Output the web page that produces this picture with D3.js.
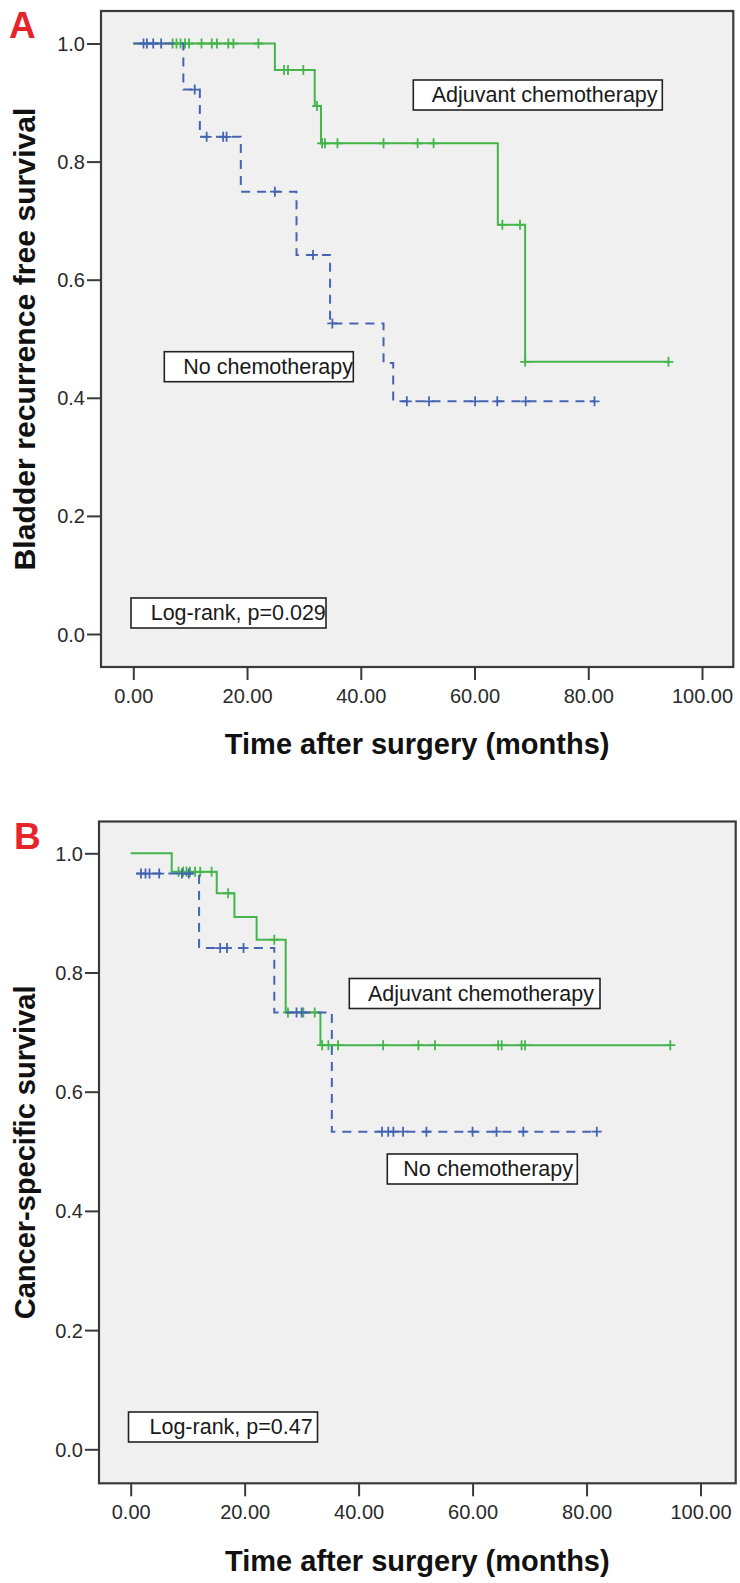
<!DOCTYPE html>
<html><head><meta charset="utf-8">
<script src="https://cdn.jsdelivr.net/npm/d3@7"></script>
<style>
html,body{margin:0;padding:0;background:#fff;}
svg{display:block;font-family:"Liberation Sans",Arial,sans-serif;}
</style></head>
<body>
<svg id="chart" width="740" height="1583"></svg>
<script>
// ---------- DATA ----------
const xTicks = [0, 20, 40, 60, 80, 100];
const yTicks = [0, 0.2, 0.4, 0.6, 0.8, 1.0];
const xTitle = "Time after surgery (months)";

// Panel A: Bladder recurrence free survival
const aTitle = "Bladder recurrence free survival";
const aChemoStepT = [0, 24.9, 31.9, 33.0, 64.1, 68.9];
const aChemoStepS = [1.0, 0.955, 0.894, 0.831, 0.693, 0.461];
const aChemoEnd = 94.1;
const aChemoCens = [6.9, 7.6, 8.3, 9.1, 9.8, 12.0, 13.8, 14.7, 16.7, 17.6, 22.0, 26.5, 27.2, 29.9, 32.3, 33.2, 33.7, 35.9, 44.0, 50.0, 52.8, 64.9, 68.0, 68.9, 94.1];
const aNoStepT = [0, 8.8, 11.7, 18.9, 28.7, 34.6, 44.0, 45.7];
const aNoStepS = [1.0, 0.922, 0.842, 0.749, 0.642, 0.526, 0.459, 0.394];
const aNoEnd = 81.1;
const aNoCens = [1.8, 2.4, 3.5, 4.9, 10.8, 12.9, 15.8, 16.4, 24.9, 31.6, 35.0, 48.1, 52.0, 60.1, 64.0, 69.0, 81.1];
const aLogRank = "Log-rank, p=0.029";

// Panel B: Cancer-specific survival
const bTitle = "Cancer-specific survival";
const bChemoStepT = [0, 7.2, 15.1, 18.2, 22.1, 27.2, 33.3];
const bChemoStepS = [1.0, 0.969, 0.933, 0.893, 0.855, 0.733, 0.678];
const bChemoEnd = 94.7;
const bChemoCens = [8.4, 9.2, 9.8, 10.4, 11.3, 12.2, 14.2, 17.1, 25.2, 27.6, 30.3, 32.3, 33.6, 34.7, 36.4, 44.3, 50.5, 53.4, 64.5, 65.1, 68.6, 69.2, 94.7];
const bNoStepT = [1.0, 12.0, 25.2, 35.3];
const bNoStepS = [0.966, 0.841, 0.733, 0.533];
const bNoEnd = 81.8;
const bNoCens = [1.8, 2.6, 3.3, 5.0, 9.0, 10.2, 15.7, 16.9, 19.8, 29.1, 30.0, 44.1, 45.2, 46.1, 47.8, 51.9, 60.0, 64.2, 68.9, 81.8];
const bLogRank = "Log-rank, p=0.47";

const chemoLabel = "Adjuvant chemotherapy";
const noLabel = "No chemotherapy";

// ---------- STYLE / LAYOUT ----------
const GREEN = "#44b54b", BLUE = "#4565b2", FRAME = "#3a3a3a", TXT = "#2a2a2a";

const panels = [
  { letter: "A", lx: 9, ly: 38, title: aTitle, titleLen: 463,
    frame: {x0: 101, x1: 733.3, y0: 11, y1: 667},
    xr: [133.3, 702], yr: [634, 43.5],
    chemo: {t: aChemoStepT, s: aChemoStepS, end: aChemoEnd, c: aChemoCens},
    no: {t: aNoStepT, s: aNoStepS, end: aNoEnd, c: aNoCens},
    boxes: [
      {text: chemoLabel, x: 413.3, y: 80, w: 249, tx: 431.7},
      {text: noLabel, x: 164.3, y: 351.7, w: 189, tx: 183.3},
      {text: aLogRank, x: 131, y: 598, w: 195, tx: 150.7}
    ],
    tickLabY: 703, xTitleY: 754 },
  { letter: "B", lx: 14, ly: 849, title: bTitle, titleLen: null,
    frame: {x0: 99, x1: 735.7, y0: 821.5, y1: 1483.3},
    xr: [130.7, 700.5], yr: [1449.3, 853.3],
    chemo: {t: bChemoStepT, s: bChemoStepS, end: bChemoEnd, c: bChemoCens},
    no: {t: bNoStepT, s: bNoStepS, end: bNoEnd, c: bNoCens},
    boxes: [
      {text: chemoLabel, x: 349.3, y: 978.5, w: 250.7, tx: 368},
      {text: noLabel, x: 387.3, y: 1154, w: 190, tx: 403.3},
      {text: bLogRank, x: 128.5, y: 1412, w: 189, tx: 149.5}
    ],
    tickLabY: 1519, xTitleY: 1571 }
];

const svg = d3.select("#chart");

function survAt(ser, t) {
  let s = ser.s[0];
  for (let i = 0; i < ser.t.length; i++) if (ser.t[i] <= t) s = ser.s[i];
  return s;
}

panels.forEach(p => {
  const f = p.frame;
  const x = d3.scaleLinear().domain([0, 100]).range(p.xr);
  const y = d3.scaleLinear().domain([0, 1]).range(p.yr);
  const g = svg.append("g");

  // plot background
  g.append("rect").attr("x", f.x0).attr("y", f.y0)
    .attr("width", f.x1 - f.x0).attr("height", f.y1 - f.y0)
    .attr("fill", "#f0f0f0");

  // axes
  const yAxis = d3.axisLeft(y).tickValues(yTicks).tickFormat(d3.format(".1f"))
    .tickSize(14).tickPadding(2);
  const ya = g.append("g").attr("transform", `translate(${f.x0},0)`).call(yAxis);
  ya.select(".domain").remove();
  ya.selectAll("line").attr("stroke", FRAME).attr("stroke-width", 2);
  ya.selectAll("text").attr("font-size", 20).attr("fill", TXT)
    .attr("font-family", "Liberation Sans, Arial, sans-serif").attr("dy", "0.35em");

  const xAxis = d3.axisBottom(x).tickValues(xTicks).tickFormat(d3.format(".2f"))
    .tickSize(13).tickPadding(0);
  const xa = g.append("g").attr("transform", `translate(0,${f.y1})`).call(xAxis);
  xa.select(".domain").remove();
  xa.selectAll("line").attr("stroke", FRAME).attr("stroke-width", 2);
  xa.selectAll("text").attr("font-size", 20).attr("fill", TXT)
    .attr("font-family", "Liberation Sans, Arial, sans-serif")
    .attr("y", p.tickLabY - f.y1).attr("dy", 0);

  // curves
  const line = d3.line().x(d => x(d[0])).y(d => y(d[1])).curve(d3.curveStepAfter);
  const series = [
    {ser: p.chemo, color: GREEN, dash: null},
    {ser: p.no, color: BLUE, dash: "9,7"}
  ];
  series.forEach(S => {
    const pts = S.ser.t.map((t, i) => [t, S.ser.s[i]]);
    pts.push([S.ser.end, S.ser.s[S.ser.s.length - 1]]);
    g.append("path").datum(pts).attr("d", line)
      .attr("fill", "none").attr("stroke", S.color).attr("stroke-width", 2)
      .attr("stroke-dasharray", S.dash);
    g.append("g").selectAll("path").data(S.ser.c).join("path")
      .attr("d", t => {
        const cx = x(t), cy = y(survAt(S.ser, t));
        return `M${cx},${cy - 5}V${cy + 5}M${cx - 5},${cy}H${cx + 5}`;
      })
      .attr("stroke", S.color).attr("stroke-width", 1.8).attr("fill", "none");
  });

  // frame
  g.append("rect").attr("x", f.x0).attr("y", f.y0)
    .attr("width", f.x1 - f.x0).attr("height", f.y1 - f.y0)
    .attr("fill", "none").attr("stroke", FRAME).attr("stroke-width", 2.2);

  // label boxes
  p.boxes.forEach(b => {
    g.append("rect").attr("x", b.x).attr("y", b.y).attr("width", b.w).attr("height", 30)
      .attr("fill", "#fff").attr("stroke", "#222").attr("stroke-width", 1.6);
    g.append("text").attr("x", b.tx).attr("y", b.y + 22)
      .attr("font-size", 21.5).attr("fill", "#1a1a1a").text(b.text);
  });

  // titles
  g.append("text").attr("x", (f.x0 + f.x1) / 2).attr("y", p.xTitleY)
    .attr("text-anchor", "middle").attr("font-size", 29).attr("font-weight", "bold")
    .attr("fill", "#111").text(xTitle);
  const yt = g.append("text")
    .attr("transform", `translate(35,${(f.y0 + f.y1) / 2}) rotate(-90)`)
    .attr("text-anchor", "middle").attr("font-size", 29).attr("font-weight", "bold")
    .attr("fill", "#111").text(p.title);
  if (p.titleLen) yt.attr("textLength", p.titleLen).attr("lengthAdjust", "spacingAndGlyphs");

  // panel letter
  g.append("text").attr("x", p.lx).attr("y", p.ly)
    .attr("font-size", 37).attr("font-weight", "bold").attr("fill", "#e8242b")
    .text(p.letter);
});
</script>
</body></html>
